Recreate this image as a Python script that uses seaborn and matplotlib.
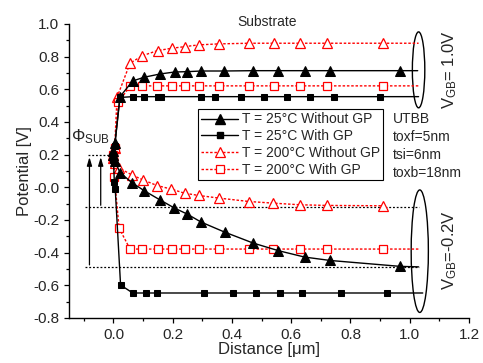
import numpy as np
import pandas as pd
import matplotlib
matplotlib.use("Agg")
import matplotlib.pyplot as plt
import seaborn as sns
from matplotlib.patches import Ellipse
from matplotlib.lines import Line2D

# -------------------------------
# Data (distance in um, potential in V)
# the last point of each list is the end of the line (no marker)
# -------------------------------
# VGB = 1.0 V
x_25_nogp_hi = [0.0, 0.005, 0.022, 0.065, 0.104, 0.158, 0.207, 0.249, 0.297, 0.374, 0.471, 0.557, 0.645, 0.732, 0.968, 1.027]
y_25_nogp_hi = [0.22, 0.27, 0.555, 0.651, 0.674, 0.694, 0.706, 0.708, 0.712, 0.712, 0.714, 0.714, 0.714, 0.714, 0.714, 0.714]

x_25_gp_hi = [0.0, 0.004, 0.022, 0.065, 0.104, 0.150, 0.160, 0.294, 0.342, 0.430, 0.508, 0.585, 0.664, 0.746, 0.900, 1.03]
y_25_gp_hi = [0.19, 0.25, 0.55, 0.555, 0.555, 0.555, 0.555, 0.555, 0.555, 0.555, 0.555, 0.555, 0.555, 0.555, 0.555, 0.555]

x_200_nogp_hi = [0.0, 0.004, 0.012, 0.056, 0.098, 0.149, 0.196, 0.240, 0.288, 0.356, 0.458, 0.542, 0.630, 0.720, 0.910, 1.03]
y_200_nogp_hi = [0.18, 0.24, 0.55, 0.76, 0.806, 0.837, 0.851, 0.861, 0.872, 0.878, 0.882, 0.882, 0.882, 0.882, 0.882, 0.882]

x_200_gp_hi = [0.0, 0.004, 0.017, 0.056, 0.098, 0.147, 0.196, 0.240, 0.288, 0.356, 0.458, 0.542, 0.630, 0.720, 0.910, 1.03]
y_200_gp_hi = [0.18, 0.24, 0.52, 0.621, 0.621, 0.621, 0.621, 0.621, 0.621, 0.621, 0.621, 0.621, 0.621, 0.621, 0.621, 0.621]

# VGB = -0.2 V
x_25_nogp_lo = [0.0, 0.005, 0.022, 0.062, 0.104, 0.156, 0.206, 0.249, 0.296, 0.375, 0.471, 0.557, 0.645, 0.732, 0.968, 1.03]
y_25_nogp_lo = [0.20, 0.16, 0.09, 0.029, -0.021, -0.076, -0.127, -0.164, -0.213, -0.274, -0.341, -0.388, -0.427, -0.448, -0.484, -0.487]

x_25_gp_lo = [0.0, 0.003, 0.006, 0.024, 0.065, 0.110, 0.147, 0.305, 0.404, 0.480, 0.562, 0.638, 0.768, 0.924, 1.044]
y_25_gp_lo = [0.17, 0.03, -0.01, -0.598, -0.647, -0.647, -0.647, -0.647, -0.647, -0.647, -0.647, -0.647, -0.647, -0.647, -0.647]

x_200_nogp_lo = [0.0, 0.005, 0.020, 0.062, 0.099, 0.147, 0.195, 0.240, 0.288, 0.356, 0.458, 0.540, 0.630, 0.720, 0.910, 0.915]
y_200_nogp_lo = [0.20, 0.15, 0.117, 0.076, 0.046, 0.011, -0.011, -0.036, -0.050, -0.066, -0.087, -0.097, -0.107, -0.111, -0.113, -0.113]

x_200_gp_lo = [0.0, 0.003, 0.019, 0.056, 0.098, 0.149, 0.196, 0.240, 0.288, 0.356, 0.458, 0.540, 0.630, 0.720, 0.910, 1.03]
y_200_gp_lo = [0.20, 0.066, -0.25, -0.378, -0.378, -0.378, -0.378, -0.378, -0.378, -0.378, -0.378, -0.378, -0.378, -0.378, -0.378, -0.378]

labels = ["T = 25°C Without GP", "T = 25°C With GP",
          "T = 200°C Without GP", "T = 200°C With GP"]
device_info = ["UTBB", "toxf=5nm", "tsi=6nm", "toxb=18nm"]

# reference levels (substrate potential)
phi_levels = [0.2, -0.12, -0.487]

# -------------------------------
# Style
# -------------------------------
sns.set_style("ticks")
plt.rcParams['font.family'] = ['Liberation Sans', 'DejaVu Sans']
plt.rcParams['mathtext.fontset'] = 'custom'
plt.rcParams['mathtext.rm'] = 'Liberation Sans'
plt.rcParams['mathtext.it'] = 'Liberation Sans:italic'
plt.rcParams['axes.unicode_minus'] = False

fig = plt.figure(figsize=(4.83, 3.63), dpi=100)
ax = fig.add_axes([0.1429, 0.124, 0.828, 0.81])

red_dash = (0, (1.8, 1.3))
styles = [
    dict(color="black", linestyle="-", marker="^", markersize=6.5, mfc="black", mec="black"),
    dict(color="black", linestyle="-", marker="s", markersize=5, mfc="black", mec="black"),
    dict(color="red", linestyle=red_dash, marker="^", markersize=6.5, mfc="white", mec="red", mew=0.9),
    dict(color="red", linestyle=red_dash, marker="s", markersize=5.5, mfc="white", mec="red", mew=0.9),
]

series = [
    (x_25_nogp_hi, y_25_nogp_hi, 0), (x_25_gp_hi, y_25_gp_hi, 1),
    (x_200_nogp_hi, y_200_nogp_hi, 2), (x_200_gp_hi, y_200_gp_hi, 3),
    (x_25_nogp_lo, y_25_nogp_lo, 0), (x_25_gp_lo, y_25_gp_lo, 1),
    (x_200_nogp_lo, y_200_nogp_lo, 2), (x_200_gp_lo, y_200_gp_lo, 3),
]

# dotted reference lines first (behind curves)
ax.plot([-0.085, 0.0], [phi_levels[0]] * 2, color="black", ls=(0, (1.5, 1.5)), lw=0.9)
for lvl in phi_levels[1:]:
    ax.plot([-0.095, 1.03], [lvl, lvl], color="black", ls=(0, (1.5, 1.5)), lw=0.9)

# red curves under black ones
for order in ([2, 3], [0, 1]):
    for xs, ys, k in series:
        if k not in order:
            continue
        sns.lineplot(x=xs, y=ys, ax=ax, sort=False, estimator=None,
                     lw=1.0, markevery=list(range(len(xs) - 1)), **styles[k])

# arrows for Phi_SUB
for xa, y0 in [(-0.081, -0.475), (-0.043, -0.11)]:
    ax.annotate("", xy=(xa, 0.185), xytext=(xa, y0),
                arrowprops=dict(arrowstyle="-|>,head_length=0.5,head_width=0.15",
                                color="black", lw=0.9, shrinkA=0, shrinkB=0))

ax.text(-0.142, 0.31, r"$\mathregular{\Phi_{SUB}}$", fontsize=12, ha="left", va="center")
ax.text(0.417, 1.01, "Substrate", fontsize=10, ha="left", va="center")

# ellipses and VGB labels
ax.add_patch(Ellipse((1.03, 0.719), 0.042, 0.465, fill=False, lw=1.0, ec="black", clip_on=False))
ax.add_patch(Ellipse((1.034, -0.391), 0.058, 0.75, fill=False, lw=1.0, ec="black", clip_on=False))
ax.text(1.136, 0.719, r"$\mathregular{V_{GB}}$= 1.0V", rotation=90, fontsize=12,
        ha="center", va="center", clip_on=False)
ax.text(1.136, -0.382, r"$\mathregular{V_{GB}}$=-0.2V", rotation=90, fontsize=12,
        ha="center", va="center", clip_on=False)

# device info
for i, t in enumerate(device_info):
    ax.text(0.942, 0.419 - i * 0.11, t, fontsize=10, ha="left", va="center")

# legend
handles = [Line2D([0], [0], lw=1.0, **s) for s in styles]
leg = ax.legend(handles, labels, loc="upper left", bbox_to_anchor=(0.3225, 0.711),
                fontsize=10, frameon=True, fancybox=False, framealpha=1,
                edgecolor="black", borderaxespad=0, borderpad=0.25,
                labelspacing=0.2, handlelength=2.6, handletextpad=0.3)
leg.get_frame().set_linewidth(0.8)

# axes
ax.set_xlim(-0.15, 1.2)
ax.set_ylim(-0.8, 1.0)
ax.set_xticks(np.arange(0.0, 1.21, 0.2))
ax.set_xticks(np.arange(-0.1, 1.21, 0.1), minor=True)
ax.set_yticks(np.arange(-0.8, 1.01, 0.2))
ax.set_yticks(np.arange(-0.8, 1.01, 0.1), minor=True)
ax.xaxis.set_major_formatter(matplotlib.ticker.FormatStrFormatter("%.1f"))
ax.yaxis.set_major_formatter(matplotlib.ticker.FormatStrFormatter("%.1f"))
ax.tick_params(which="major", length=3.5, width=0.9, labelsize=11, direction="out", color="black")
ax.tick_params(which="minor", length=2, width=0.9, direction="out", color="black")
sns.despine(ax=ax)
for sp in ["left", "bottom"]:
    ax.spines[sp].set_linewidth(1.0)
    ax.spines[sp].set_color("black")

ax.set_xlabel("Distance [μm]", fontsize=12, labelpad=0)
ax.set_ylabel("Potential [V]", fontsize=12, labelpad=1)

plt.savefig("out.png", dpi=100)
